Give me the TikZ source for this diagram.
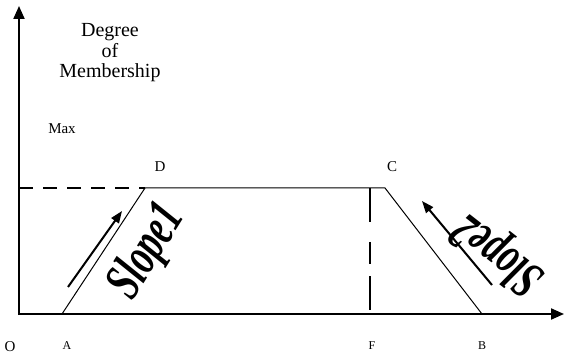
\documentclass[tikz,border=0pt]{standalone}
\usepackage{fontspec}
\setmainfont{Liberation Serif}
\usetikzlibrary{arrows.meta}
\newcommand{\slopefont}[1]{\scalebox{0.82}[1.22]{\fontsize{44}{46}\selectfont\bfseries\itshape #1}}
\begin{document}
\begin{tikzpicture}[x=1pt,y=-1pt,
  axis/.style={line width=2pt,-{Triangle[length=13pt,width=11pt]}},
  edge/.style={line width=1pt},
  dline/.style={line width=1.3pt},
  sarrow/.style={line width=2pt,-{Triangle[length=12pt,width=9pt]}},
  lbl/.style={inner sep=0pt,font=\fontsize{12}{14}\selectfont},
  biglbl/.style={inner sep=0pt,font=\fontsize{15}{17}\selectfont},
  slopetxt/.style={inner sep=0pt}]
\useasboundingbox (0,0) rectangle (565,358);
\coordinate (O) at (19,314);
\coordinate (Ybot) at (19,315);
\coordinate (Ytop) at (19,6);
\coordinate (Xbeg) at (18,314);
\coordinate (Xend) at (564,314);
\coordinate (A) at (62,314);
\coordinate (D) at (145,188);
\coordinate (C) at (385,188);
\coordinate (B) at (482,314);
\coordinate (Ftop) at (370,188);
\coordinate (F) at (370,314);
\coordinate (Yd) at (19,188);
\coordinate (s1a) at (68,287);
\coordinate (s1b) at (122,211);
\coordinate (s2a) at (492,285);
\coordinate (s2b) at (422,201);
% axes
\draw[axis] (Ybot) -- (Ytop);
\draw[axis] (Xbeg) -- (Xend);
% trapezoid
\draw[edge] (A) -- (D) -- (C) -- (B);
\draw[dline,dash pattern=on 14pt off 10pt] (Yd) -- (D);
\draw[dline,dash pattern=on 34pt off 20pt on 22pt off 12pt] (Ftop) -- (F);
% slope arrows
\draw[sarrow] (s1a) -- (s1b);
\draw[sarrow] (s2a) -- (s2b);
% texts
\node[align=center,inner sep=0pt,font=\fontsize{20}{20.5}\selectfont] (deg) at (110,53) {Degree\\of\\Membership};
\node[biglbl] (max) at (62,129) {Max};
\node[biglbl] (dl) at (160,167) {D};
\node[biglbl] (cl) at (392,167) {C};
\node[biglbl] (ol) at (10,347) {O};
\node[lbl] (al) at (67,346) {A};
\node[lbl] (fl) at (372,346) {F};
\node[lbl] (bl) at (482,346) {B};
\node[slopetxt,rotate=58] (sl1) at (148,252) {\slopefont{Slope1}};
\node[slopetxt,rotate=142] (sl2) at (499,253) {\slopefont{Slope2}};
\end{tikzpicture}
\end{document}
